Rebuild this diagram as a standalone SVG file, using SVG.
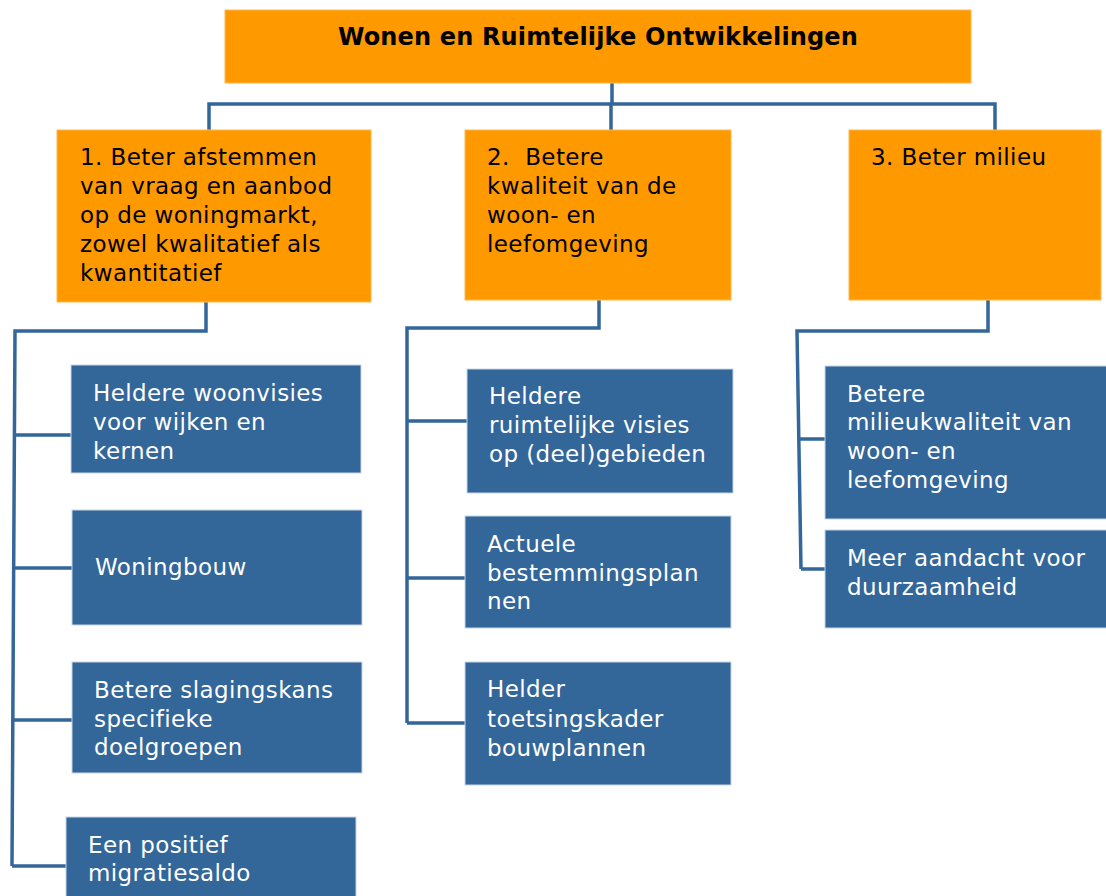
<svg xmlns="http://www.w3.org/2000/svg" width="1106" height="896" viewBox="0 0 1106 896">
<style>
.o{fill:#FF9900;stroke:#FFB84D;stroke-width:1}
.b{fill:#336699;stroke:#C9D6E6;stroke-width:1}
.t{font-family:"DejaVu Sans",Verdana,sans-serif;font-size:23px;letter-spacing:0.4px}
.tk{fill:#000}
.tw{fill:#fff}
.title{font-family:"DejaVu Sans",Verdana,sans-serif;font-size:24px;letter-spacing:0.15px;font-weight:bold;fill:#000}
.c{fill:none;stroke:#336699;stroke-width:3.5}
</style>
<rect width="1106" height="896" fill="#fff"/>
<g id="connectors">
<path class="c" d="M612 83V104M209 130V104H995V130M611 104V130"/>
<path class="c" d="M206 302V331H15L12 866M15 435H71M14 568H72M13 720H72M12 866H67"/>
<path class="c" d="M599 300V328H407V723M407 421H467M407 578H465M407 723H465"/>
<path class="c" d="M988 300V331H797L801 569M798 439H825M801 569H825"/>
</g>
<g id="root">
<rect class="o" x="225" y="10" width="746" height="73"/>
<text class="title" x="598" y="45" text-anchor="middle">Wonen en Ruimtelijke Ontwikkelingen</text>
</g>
<g id="goal1">
<rect class="o" x="57" y="130" width="314" height="172"/>
<text class="t tk" x="80"><tspan x="80" y="165">1. Beter afstemmen</tspan><tspan x="80" y="194">van vraag en aanbod</tspan><tspan x="80" y="223">op de woningmarkt,</tspan><tspan x="80" y="252">zowel kwalitatief als</tspan><tspan x="80" y="281">kwantitatief</tspan></text>
</g>
<g id="goal2">
<rect class="o" x="465" y="130" width="266" height="170"/>
<text class="t tk"><tspan x="487" y="165">2.&#160; Betere</tspan><tspan x="487" y="194">kwaliteit van de</tspan><tspan x="487" y="223">woon- en</tspan><tspan x="487" y="252">leefomgeving</tspan></text>
</g>
<g id="goal3">
<rect class="o" x="849" y="130" width="252" height="170"/>
<text class="t tk" x="871" y="165">3. Beter milieu</text>
</g>
<g id="b1">
<rect class="b" x="71" y="365" width="290" height="108"/>
<text class="t tw"><tspan x="93" y="401">Heldere woonvisies</tspan><tspan x="93" y="430">voor wijken en</tspan><tspan x="93" y="459">kernen</tspan></text>
</g>
<g id="b2">
<rect class="b" x="72" y="510" width="290" height="115"/>
<text class="t tw" x="95" y="575">Woningbouw</text>
</g>
<g id="b3">
<rect class="b" x="72" y="662" width="290" height="111"/>
<text class="t tw"><tspan x="94" y="698">Betere slagingskans</tspan><tspan x="94" y="727">specifieke</tspan><tspan x="94" y="755">doelgroepen</tspan></text>
</g>
<g id="b4">
<rect class="b" x="66" y="817" width="290" height="85"/>
<text class="t tw"><tspan x="88" y="853">Een positief</tspan><tspan x="88" y="881">migratiesaldo</tspan></text>
</g>
<g id="c1">
<rect class="b" x="467" y="369" width="266" height="124"/>
<text class="t tw"><tspan x="489" y="404">Heldere</tspan><tspan x="489" y="433">ruimtelijke visies</tspan><tspan x="489" y="462">op (deel)gebieden</tspan></text>
</g>
<g id="c2">
<rect class="b" x="465" y="516" width="266" height="112"/>
<text class="t tw"><tspan x="487" y="552">Actuele</tspan><tspan x="487" y="581">bestemmingsplan</tspan><tspan x="487" y="609">nen</tspan></text>
</g>
<g id="c3">
<rect class="b" x="465" y="662" width="266" height="123"/>
<text class="t tw"><tspan x="487" y="697">Helder</tspan><tspan x="487" y="727">toetsingskader</tspan><tspan x="487" y="756">bouwplannen</tspan></text>
</g>
<g id="d1">
<rect class="b" x="825" y="366" width="285" height="153"/>
<text class="t tw"><tspan x="847" y="402">Betere</tspan><tspan x="847" y="430">milieukwaliteit van</tspan><tspan x="847" y="459">woon- en</tspan><tspan x="847" y="488">leefomgeving</tspan></text>
</g>
<g id="d2">
<rect class="b" x="825" y="530" width="285" height="98"/>
<text class="t tw"><tspan x="847" y="566">Meer aandacht voor</tspan><tspan x="847" y="595">duurzaamheid</tspan></text>
</g>
</svg>
